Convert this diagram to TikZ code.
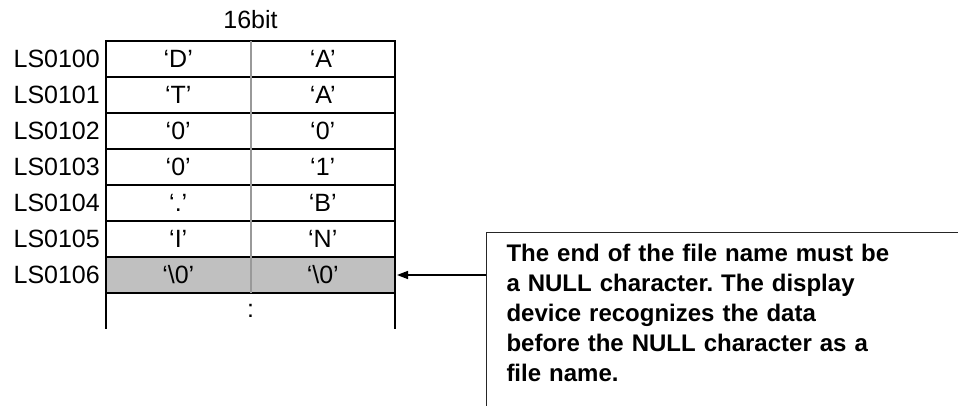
\documentclass[tikz,border=0pt]{standalone}
\usepackage{fontspec}
\setmainfont{Liberation Sans}
\usepackage{xcolor}
\usetikzlibrary{positioning,arrows.meta}
\definecolor{nullgray}{RGB}{192,192,192}
\frenchspacing

\begin{document}
\begin{tikzpicture}[x=1pt,y=1pt,font=\fontsize{25}{30}\selectfont,
  cell/.style={draw,line width=2pt,minimum width=144.5pt,minimum height=36pt,inner sep=0pt,outer sep=0pt},
  addr/.style={inner sep=0pt,left=6pt of #1},
  node distance=0pt]
\clip (0,0) rectangle (958,405);
\node[cell] (l100) at (178.25,346) {‘D’};
\node[cell,right=of l100] (r100) {‘A’};
\node[cell,below=of l100] (l101) {‘T’};
\node[cell,right=of l101] (r101) {‘A’};
\node[cell,below=of l101] (l102) {‘0’};
\node[cell,right=of l102] (r102) {‘0’};
\node[cell,below=of l102] (l103) {‘0’};
\node[cell,right=of l103] (r103) {‘1’};
\node[cell,below=of l103] (l104) {‘.’};
\node[cell,right=of l104] (r104) {‘B’};
\node[cell,below=of l104] (l105) {‘I’};
\node[cell,right=of l105] (r105) {‘N’};
\node[cell,below=of l105,fill=nullgray] (l106) {‘\textbackslash 0’};
\node[cell,right=of l106,fill=nullgray] (r106) {‘\textbackslash 0’};
\node[minimum width=289pt,minimum height=36pt,inner sep=0pt,anchor=north west] (more) at (l106.south west) {:};
\draw[line width=2pt] (more.north west) -- (more.south west) (more.north east) -- (more.south east);
\draw[line width=2pt,gray!80] (l100.north east) -- (l106.south east);
% addresses
\node[addr=l100] (a100) {LS0100};
\node[addr=l101] (a101) {LS0101};
\node[addr=l102] (a102) {LS0102};
\node[addr=l103] (a103) {LS0103};
\node[addr=l104] (a104) {LS0104};
\node[addr=l105] (a105) {LS0105};
\node[addr=l106] (a106) {LS0106};
\node[inner sep=0pt,above=12pt of l100.north east] (bits) {16bit};
% note
\node[draw,line width=1pt,black!85,text=black,anchor=north west,align=left,inner xsep=8pt,inner ysep=10pt,
  minimum width=600pt,minimum height=220pt,text width=560pt,font=\fontsize{24}{30}\selectfont\bfseries] (note) at (486,173)
  {The end of the file name must be\\a NULL character. The display\\device recognizes the data\\before the NULL character as a\\file name.\par\vspace*{60pt}};
\draw[line width=1.5pt,-{Triangle[length=11pt,width=8pt]},shorten >=2pt] (r106.east -| note.west) -- (r106.east);
\end{tikzpicture}
\end{document}
